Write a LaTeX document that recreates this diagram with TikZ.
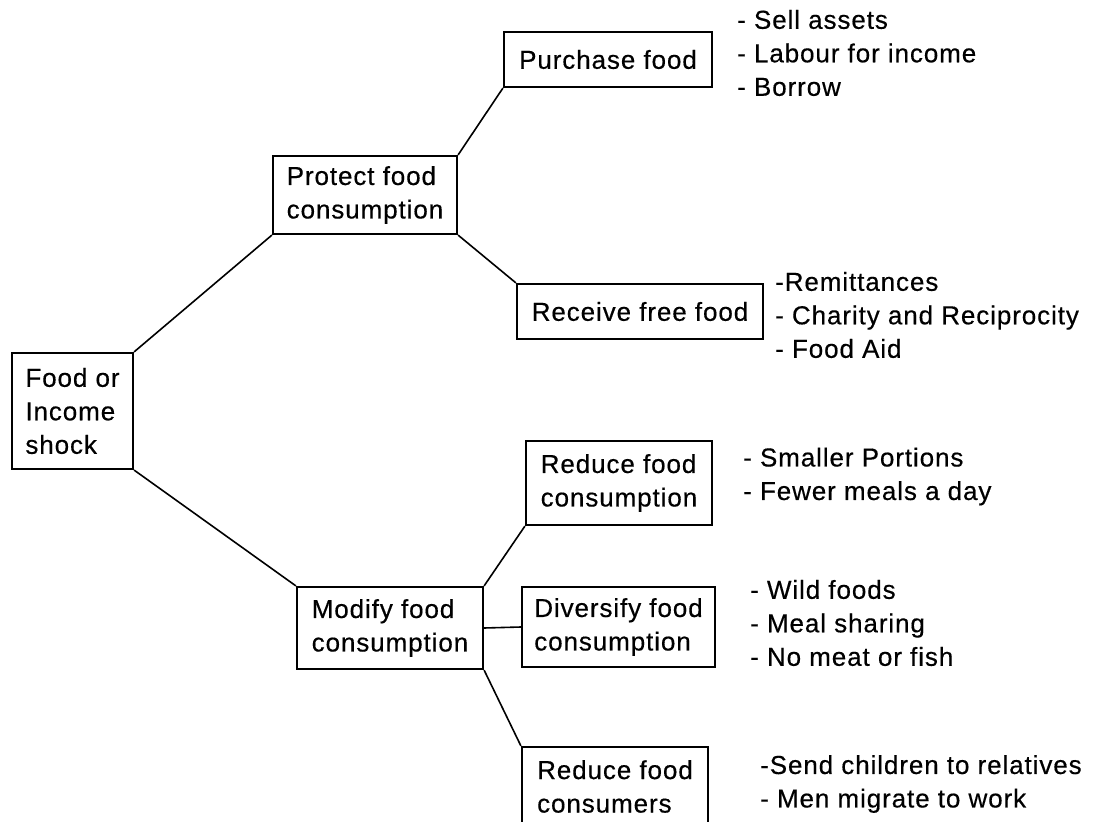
\documentclass[tikz,border=0pt]{standalone}
\usepackage{fontspec}
\setmainfont{Liberation Sans}[LetterSpace=3.5,FakeBold=0.4]
\begin{document}
\begin{tikzpicture}[x=1pt,y=-1pt,
  box/.style={draw, line width=2.2pt, inner sep=0pt, align=left, font=\fontsize{26}{33.5}\selectfont},
  lst/.style={anchor=west, inner sep=0pt, align=left, font=\fontsize{26}{33.5}\selectfont},
  link/.style={line width=1.6pt}]
\useasboundingbox (0,0) rectangle (1093,822);
\clip (0,0) rectangle (1093,822);
\fill[white] (0,0) rectangle (1093,822);

\node[box, minimum width=121pt, minimum height=116pt] (food) at (72.5,411) {Food or\\Income\\shock};
\node[box, minimum width=184pt, minimum height=78pt] (protect) at (365,195) {Protect food\\consumption};
\node[box, minimum width=208pt, minimum height=55pt] (purchase) at (608,59.5) {Purchase food};
\node[box, minimum width=246pt, minimum height=55pt] (receive) at (640,311.5) {Receive free food};
\node[box, minimum width=186pt, minimum height=82pt] (modify) at (390,628) {Modify food\\consumption};
\node[box, minimum width=186pt, minimum height=84pt] (reducecons) at (619,483) {Reduce food\\consumption};
\node[box, minimum width=193pt, minimum height=80pt] (diversify) at (618.5,627) {Diversify food\\consumption};
\node[box, minimum width=186pt, minimum height=79pt] (reducers) at (615,786.5) {Reduce food\\consumers};

\node[lst] (pl) at (737,53) {- Sell assets\\- Labour for income\\- Borrow};
\node[lst] (rl) at (775,315) {-Remittances\\- Charity and Reciprocity\\- Food Aid};
\node[lst] (cl) at (743,476.5) {- Smaller Portions\\- Fewer meals a day};
\node[lst] (dl) at (750,623) {- Wild foods\\- Meal sharing\\- No meat or fish};
\node[lst] (sl) at (760,784) {-Send children to relatives\\- Men migrate to work};

\draw[link] (food.north east) -- (protect.south west);
\draw[link] (food.south east) -- (modify.north west);
\draw[link] (protect.north east) -- (purchase.south west);
\draw[link] (protect.south east) -- (receive.north west);
\draw[link] (modify.north east) -- (reducecons.south west);
\draw[link] (modify.east) -- (diversify.west);
\draw[link] (modify.south east) -- (reducers.north west);
\end{tikzpicture}
\end{document}
